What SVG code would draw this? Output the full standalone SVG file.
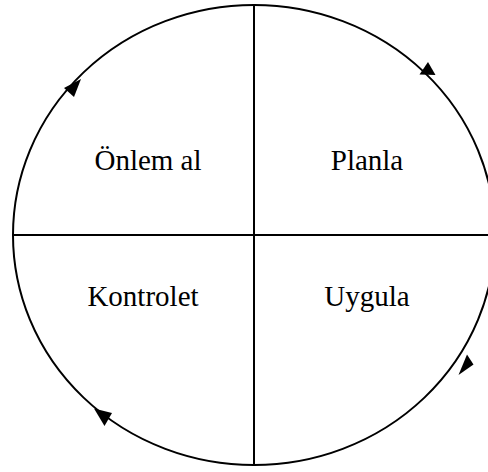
<svg xmlns="http://www.w3.org/2000/svg" width="488" height="472" viewBox="0 0 488 472">
<style>
.ln{fill:none;stroke:#000;stroke-width:2}
.ah{fill:#000}
.t{font-family:"Liberation Serif","Times New Roman",serif;font-size:29px;fill:#000;text-anchor:middle}
</style>
<rect width="488" height="472" fill="#fff"/>
<g id="connectors">
<ellipse class="ln" cx="254" cy="235" rx="241" ry="230"/>
<line class="ln" x1="254" y1="5" x2="254" y2="465"/>
<line class="ln" x1="13" y1="235" x2="495" y2="235"/>
<polygon class="ah" points="428,62 419.5,74.5 435.5,75"/>
<polygon class="ah" points="467,354.5 473.5,364.5 458.5,375"/>
<polygon class="ah" points="94,408.5 112,413 104.5,426"/>
<polygon class="ah" points="81,79 64,88 74,97"/>
</g>
<g id="onlem"><text class="t" x="148" y="170">Önlem al</text></g>
<g id="planla"><text class="t" x="367" y="170">Planla</text></g>
<g id="kontrolet"><text class="t" x="143" y="306">Kontrolet</text></g>
<g id="uygula"><text class="t" x="367" y="306">Uygula</text></g>
</svg>
